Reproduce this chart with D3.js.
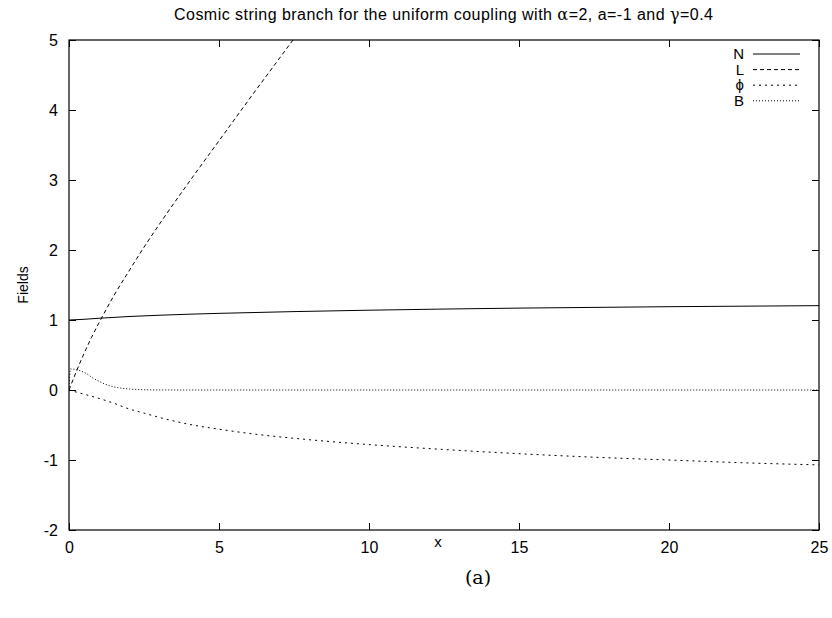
<!DOCTYPE html>
<html>
<head>
<meta charset="utf-8">
<script src="https://cdn.jsdelivr.net/npm/d3@7"></script>
<style>
body{margin:0;background:#fff;}
text{font-family:"Liberation Sans",Arial,sans-serif;fill:#000;}
</style>
</head>
<body>
<svg id="chart" width="832" height="618"></svg>
<script>
// Data
const xTicks = [0, 5, 10, 15, 20, 25];
const yTicks = [-2, -1, 0, 1, 2, 3, 4, 5];
const seriesNames = ["N", "L", "\u03d5", "B"];

const N_x = [0, 0.5, 1, 2, 3, 5, 7.5, 10, 15, 20, 25];
const N_y = [1.0, 1.01, 1.025, 1.05, 1.068, 1.095, 1.12, 1.14, 1.17, 1.19, 1.205];

const L_x = [0, 0.25, 0.5, 0.75, 1, 1.5, 2, 2.5, 3, 4, 5, 6, 7, 8];
const L_y = [0, 0.27, 0.52, 0.75, 0.96, 1.35, 1.70, 2.04, 2.36, 2.97, 3.56, 4.15, 4.73, 5.31];

const P_x = [0, 0.5, 1, 1.5, 2, 2.5, 3, 4, 5, 6, 8, 10, 12.5, 15, 17.5, 20, 22.5, 25];
const P_y = [0, -0.06, -0.12, -0.19, -0.27, -0.33, -0.39, -0.49, -0.56, -0.62, -0.71, -0.78, -0.85, -0.91, -0.96, -1.0, -1.04, -1.07];

const B_x = [0, 0.05, 0.2, 0.4, 0.6, 0.8, 1.0, 1.2, 1.5, 2, 2.5, 3, 4, 25];
const B_y = [0, 0.30, 0.295, 0.27, 0.23, 0.17, 0.125, 0.085, 0.045, 0.015, 0.004, 0.001, 0, 0];

const dashes = ["none", "4,3", "2,4", "1,2"];

const svg = d3.select("#chart");
const M = {left: 69, right: 819, top: 40, bottom: 530};

const x = d3.scaleLinear().domain([0, 25]).range([M.left, M.right]);
const y = d3.scaleLinear().domain([-2, 5]).range([M.bottom, M.top]);

svg.append("defs").append("clipPath").attr("id", "clip")
  .append("rect").attr("x", M.left).attr("y", M.top)
  .attr("width", M.right - M.left).attr("height", M.bottom - M.top);

const tickLen = 7;
const fmt = d => String(d);
const gB = svg.append("g").attr("transform", `translate(0,${M.bottom})`)
  .call(d3.axisBottom(x).tickValues(xTicks).tickSize(-tickLen).tickPadding(12).tickFormat(fmt));
const gT = svg.append("g").attr("transform", `translate(0,${M.top})`)
  .call(d3.axisTop(x).tickValues(xTicks).tickSize(-tickLen).tickFormat(""));
const gL = svg.append("g").attr("transform", `translate(${M.left},0)`)
  .call(d3.axisLeft(y).tickValues(yTicks).tickSize(-tickLen).tickPadding(11).tickFormat(fmt));
const gR = svg.append("g").attr("transform", `translate(${M.right},0)`)
  .call(d3.axisRight(y).tickValues(yTicks).tickSize(-tickLen).tickFormat(""));
[gB, gT, gL, gR].forEach(g => {
  g.select(".domain").remove();
  g.selectAll("line").attr("stroke", "#000").attr("stroke-width", 1);
  g.selectAll("text").style("font-family", "Liberation Sans, Arial, sans-serif").style("font-size", "16px").attr("fill", "#000");
});
gB.selectAll("text").attr("dy", "0.71em");

// Frame
svg.append("rect").attr("x", M.left).attr("y", M.top)
  .attr("width", M.right - M.left).attr("height", M.bottom - M.top)
  .attr("fill", "none").attr("stroke", "#000").attr("stroke-width", 1.2);

// Series
const series = [
  d3.zip(N_x, N_y), d3.zip(L_x, L_y), d3.zip(P_x, P_y), d3.zip(B_x, B_y)
];
const line = d3.line().x(d => x(d[0])).y(d => y(d[1])).curve(d3.curveMonotoneX);
const gLines = svg.append("g").attr("clip-path", "url(#clip)");
series.forEach((s, i) => {
  gLines.append("path").datum(s).attr("d", line)
    .attr("fill", "none").attr("stroke", "#000").attr("stroke-width", 1)
    .attr("stroke-dasharray", dashes[i]);
});

// Legend
const lg = svg.append("g");
seriesNames.forEach((n, i) => {
  const yy = 54 + i * 15.6;
  lg.append("text").attr("x", 744).attr("y", yy).attr("dy", "0.35em")
    .attr("text-anchor", "end").style("font-size", "15px").text(n);
  lg.append("line").attr("x1", 753).attr("x2", 800).attr("y1", yy).attr("y2", yy)
    .attr("stroke", "#000").attr("stroke-width", 1).attr("stroke-dasharray", dashes[i]);
});

// Title
const title = svg.append("text").attr("x", 174).attr("y", 20)
  .attr("textLength", 539).attr("lengthAdjust", "spacing")
  .style("font-size", "16px");
title.append("tspan").text("Cosmic string branch for the uniform coupling with ");
title.append("tspan").style("font-family", "DejaVu Serif, serif").text("\u03b1");
title.append("tspan").text("=2, a=-1 and ");
title.append("tspan").style("font-family", "DejaVu Serif, serif").text("\u03b3");
title.append("tspan").text("=0.4");

// Axis labels
svg.append("text").attr("x", 438).attr("y", 547).attr("text-anchor", "middle")
  .style("font-size", "15px").text("x");
svg.append("text").attr("transform", "translate(28,285) rotate(-90)").attr("text-anchor", "middle")
  .style("font-size", "14px").text("Fields");
svg.append("text").attr("x", 478).attr("y", 584).attr("text-anchor", "middle")
  .style("font-family", "DejaVu Serif, serif").style("font-size", "19px").text("(a)");
</script>
</body>
</html>
